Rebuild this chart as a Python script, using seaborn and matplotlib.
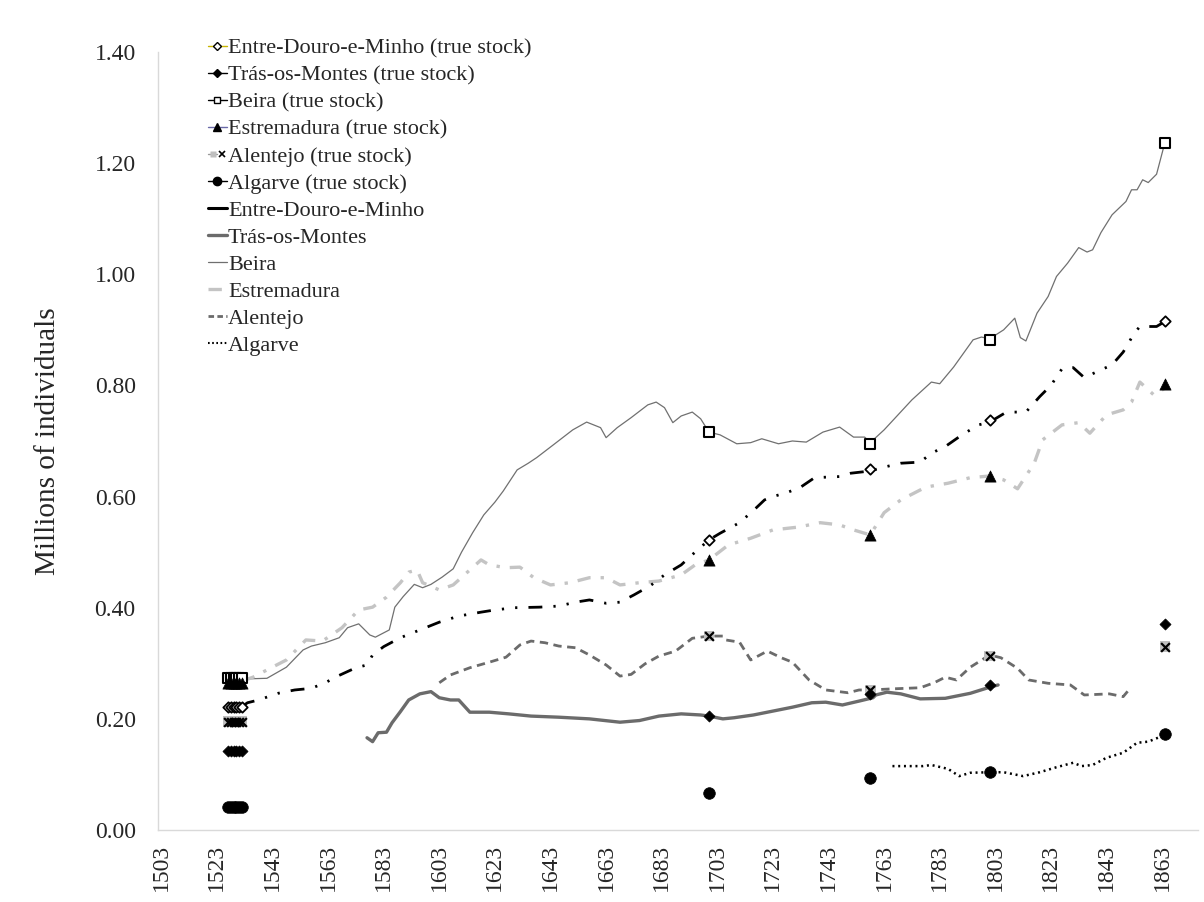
import matplotlib
matplotlib.use('Agg')
import matplotlib.pyplot as plt
from matplotlib.lines import Line2D
from matplotlib.legend_handler import HandlerTuple
import seaborn as sns

# census / "true stock" years (1527-1532 numeramento shown as a run of markers)
stock_years = [1527, 1528, 1529, 1530, 1531, 1532, 1700, 1758, 1801, 1864]
edm_stock = [0.222, 0.222, 0.222, 0.222, 0.222, 0.222, 0.522, 0.650, 0.738, 0.915]
tm_stock = [0.143, 0.143, 0.143, 0.143, 0.143, 0.143, 0.205, 0.245, 0.261, 0.371]
beira_stock = [0.274, 0.274, 0.274, 0.274, 0.274, 0.274, 0.716, 0.695, 0.882, 1.237]
estr_stock = [0.265, 0.265, 0.265, 0.265, 0.265, 0.265, 0.486, 0.531, 0.637, 0.803]
alen_stock = [0.195, 0.195, 0.195, 0.195, 0.195, 0.195, 0.349, 0.252, 0.313, 0.330]
alg_stock = [0.041, 0.041, 0.041, 0.041, 0.041, 0.041, 0.067, 0.094, 0.104, 0.173]

# estimated series
edm_years = [1532, 1534, 1538, 1545, 1551, 1557, 1562, 1566, 1573, 1577, 1579, 1583, 1589,
             1596, 1603, 1610, 1618, 1623, 1630, 1639, 1646, 1652, 1657, 1663, 1668, 1673,
             1679, 1684, 1690, 1695, 1700, 1704, 1711, 1716, 1720, 1723, 1728, 1733, 1738,
             1747, 1751, 1758, 1763, 1769, 1776, 1780, 1785, 1791, 1797, 1801, 1807, 1814,
             1819, 1823, 1827, 1831, 1835, 1841, 1845, 1849, 1853, 1855, 1861, 1864]
edm_vals = [0.222, 0.229, 0.234, 0.246, 0.252, 0.255, 0.265, 0.276, 0.292, 0.297, 0.315, 0.330, 0.346,
            0.360, 0.374, 0.385, 0.392, 0.396, 0.400, 0.401, 0.403, 0.410, 0.414, 0.408, 0.410, 0.423,
            0.440, 0.459, 0.477, 0.500, 0.522, 0.534, 0.553, 0.575, 0.594, 0.600, 0.607, 0.617, 0.634,
            0.636, 0.642, 0.646, 0.653, 0.660, 0.662, 0.678, 0.690, 0.711, 0.729, 0.734, 0.752, 0.752,
            0.780, 0.800, 0.830, 0.832, 0.814, 0.828, 0.837, 0.860, 0.894, 0.906, 0.906, 0.915]

tm_years = [1577, 1579, 1581, 1584, 1586, 1589, 1592, 1596, 1600, 1603, 1607, 1610, 1614, 1621,
            1628, 1636, 1646, 1657, 1668, 1675, 1682, 1690, 1697, 1700, 1705, 1709, 1716, 1723,
            1730, 1737, 1742, 1748, 1754, 1759, 1760, 1764, 1769, 1776, 1785, 1794, 1801, 1804]
tm_vals = [0.166, 0.159, 0.175, 0.176, 0.193, 0.213, 0.234, 0.245, 0.249, 0.238, 0.234, 0.234, 0.212, 0.212,
           0.209, 0.205, 0.203, 0.200, 0.194, 0.197, 0.205, 0.209, 0.207, 0.205, 0.200, 0.202, 0.207, 0.214,
           0.221, 0.229, 0.230, 0.225, 0.232, 0.238, 0.243, 0.248, 0.245, 0.236, 0.237, 0.246, 0.257, 0.261]

beira_years = [1532, 1534, 1541, 1548, 1554, 1557, 1562, 1567, 1570, 1574, 1578, 1580, 1585, 1587,
               1590, 1594, 1597, 1600, 1604, 1608, 1611, 1615, 1619, 1623, 1626, 1631, 1635, 1638,
               1644, 1651, 1656, 1661, 1663, 1667, 1672, 1678, 1681, 1684, 1687, 1690, 1694, 1697,
               1700, 1704, 1710, 1715, 1719, 1725, 1730, 1735, 1741, 1747, 1752, 1756, 1758, 1763,
               1768, 1773, 1780, 1783, 1788, 1795, 1798, 1801, 1806, 1810, 1812, 1814, 1818, 1822,
               1825, 1829, 1833, 1836, 1838, 1841, 1845, 1850, 1852, 1854, 1856, 1858, 1861, 1864]
beira_vals = [0.270, 0.272, 0.273, 0.293, 0.324, 0.331, 0.337, 0.346, 0.364, 0.371, 0.351, 0.347, 0.360, 0.401,
              0.420, 0.442, 0.436, 0.442, 0.455, 0.470, 0.500, 0.535, 0.567, 0.590, 0.610, 0.648, 0.660, 0.670,
              0.693, 0.720, 0.734, 0.724, 0.706, 0.724, 0.742, 0.765, 0.770, 0.760, 0.733, 0.745, 0.752, 0.740,
              0.716, 0.711, 0.695, 0.697, 0.704, 0.695, 0.700, 0.698, 0.716, 0.725, 0.707, 0.707, 0.697, 0.720,
              0.747, 0.774, 0.806, 0.803, 0.833, 0.882, 0.887, 0.884, 0.900, 0.921, 0.886, 0.880, 0.930, 0.960,
              0.996, 1.020, 1.048, 1.040, 1.044, 1.075, 1.107, 1.131, 1.152, 1.152, 1.170, 1.165, 1.180, 1.237]

estr_years = [1532, 1536, 1541, 1548, 1555, 1561, 1568, 1574, 1579, 1584, 1589, 1592, 1595, 1597,
              1603, 1608, 1614, 1618, 1621, 1627, 1632, 1637, 1643, 1650, 1657, 1663, 1668, 1675,
              1682, 1690, 1695, 1700, 1707, 1715, 1723, 1732, 1740, 1747, 1752, 1758, 1763, 1769,
              1778, 1786, 1794, 1801, 1806, 1811, 1817, 1820, 1827, 1833, 1837, 1843, 1849, 1852,
              1855, 1860, 1864]
estr_vals = [0.268, 0.275, 0.288, 0.306, 0.342, 0.340, 0.364, 0.396, 0.401, 0.419, 0.445, 0.464, 0.468, 0.445,
             0.432, 0.441, 0.468, 0.486, 0.477, 0.472, 0.473, 0.454, 0.441, 0.445, 0.454, 0.454, 0.441, 0.445,
             0.448, 0.459, 0.477, 0.486, 0.513, 0.525, 0.540, 0.545, 0.553, 0.549, 0.540, 0.531, 0.571, 0.594,
             0.617, 0.624, 0.634, 0.637, 0.630, 0.614, 0.660, 0.702, 0.729, 0.733, 0.714, 0.747, 0.756, 0.770,
             0.806, 0.783, 0.795]

alen_years = [1603, 1607, 1614, 1621, 1627, 1632, 1636, 1641, 1646, 1652, 1657, 1663, 1668, 1672,
              1677, 1682, 1688, 1694, 1700, 1705, 1706, 1711, 1715, 1721, 1726, 1730, 1736, 1742,
              1750, 1754, 1758, 1766, 1776, 1781, 1785, 1789, 1794, 1801, 1805, 1811, 1815, 1822,
              1830, 1835, 1844, 1849, 1851]
alen_vals = [0.265, 0.279, 0.292, 0.302, 0.311, 0.333, 0.340, 0.337, 0.331, 0.328, 0.315, 0.297, 0.277, 0.280,
             0.299, 0.313, 0.322, 0.345, 0.349, 0.349, 0.342, 0.338, 0.306, 0.322, 0.310, 0.302, 0.270, 0.252,
             0.247, 0.252, 0.252, 0.254, 0.256, 0.265, 0.275, 0.270, 0.293, 0.315, 0.310, 0.291, 0.270, 0.264,
             0.261, 0.243, 0.245, 0.240, 0.252]

alg_years = [1766, 1777, 1780, 1786, 1790, 1794, 1801, 1806, 1813, 1819, 1825, 1831, 1834, 1838,
             1843, 1849, 1854, 1858, 1862, 1864]
alg_vals = [0.115, 0.115, 0.117, 0.110, 0.097, 0.103, 0.104, 0.104, 0.097, 0.104, 0.113, 0.121, 0.115, 0.117,
            0.130, 0.139, 0.157, 0.159, 0.167, 0.173]

x_ticks = list(range(1503, 1864, 20))
y_ticks = [0.0, 0.2, 0.4, 0.6, 0.8, 1.0, 1.2, 1.4]

sns.set_style('white')
plt.rcParams['font.family'] = ['Liberation Serif', 'DejaVu Serif']

fig = plt.figure(figsize=(12.04, 9.02), dpi=100)
ax = fig.add_axes([0.1312, 0.0798, 0.8638, 0.8626])

# lines
sns.lineplot(x=beira_years, y=beira_vals, ax=ax, color='#707070', linewidth=0.9, errorbar=None)
sns.lineplot(x=estr_years, y=estr_vals, ax=ax, color='#c4c4c4', linewidth=2.4, errorbar=None,
             linestyle=(0, (4, 3, 1, 3)))
sns.lineplot(x=edm_years, y=edm_vals, ax=ax, color='black', linewidth=2.0, errorbar=None,
             linestyle=(0, (5, 4, 0.8, 4, 0.8, 4)))
sns.lineplot(x=tm_years, y=tm_vals, ax=ax, color='#6b6b6b', linewidth=2.4, errorbar=None)
sns.lineplot(x=alen_years, y=alen_vals, ax=ax, color='#6b6b6b', linewidth=2.0, errorbar=None,
             linestyle=(0, (3, 2)))
sns.lineplot(x=alg_years, y=alg_vals, ax=ax, color='black', linewidth=1.8, errorbar=None,
             linestyle=(0, (0.8, 1.5)))

# true stock markers
sns.scatterplot(x=stock_years, y=beira_stock, ax=ax, marker='s', s=55, color='white',
                edgecolor='black', linewidth=1.5, zorder=5)
sns.scatterplot(x=stock_years, y=estr_stock, ax=ax, marker='^', s=65, color='black',
                edgecolor='black', linewidth=0.5, zorder=5)
sns.scatterplot(x=stock_years, y=edm_stock, ax=ax, marker='D', s=28, color='white',
                edgecolor='black', linewidth=1.3, zorder=5)
sns.scatterplot(x=stock_years, y=alen_stock, ax=ax, marker='s', s=60, color='#bfbfbf',
                edgecolor='none', linewidth=0, zorder=5)
sns.scatterplot(x=stock_years, y=alen_stock, ax=ax, marker='x', s=40, color='black',
                linewidth=1.6, zorder=6)
sns.scatterplot(x=stock_years, y=tm_stock, ax=ax, marker='D', s=32, color='black',
                edgecolor='black', linewidth=0.5, zorder=5)
sns.scatterplot(x=stock_years, y=alg_stock, ax=ax, marker='o', s=70, color='black',
                edgecolor='black', linewidth=0.5, zorder=5)

ax.set_xlim(1501.8, 1875.9)
ax.set_ylim(0, 1.4)
ax.set_xticks(x_ticks)
ax.set_xticklabels([str(t) for t in x_ticks], rotation=90, fontsize=17)
ax.set_yticks(y_ticks)
ax.set_yticklabels(['%.2f' % v for v in y_ticks], fontsize=17)
ax.tick_params(axis='x', length=0, pad=10)
ax.tick_params(axis='y', length=0, pad=16)
ax.set_xlabel('')
ax.set_ylabel('Millions of individuals', fontsize=21, labelpad=24)
for sp in ['top', 'right']:
    ax.spines[sp].set_visible(False)
for sp in ['left', 'bottom']:
    ax.spines[sp].set_color('#d9d9d9')
    ax.spines[sp].set_linewidth(1.0)

# legend in Excel style
ms = 5
handles = [
    Line2D([], [], color='#c8b400', lw=1, marker='D', markersize=ms - 1, markerfacecolor='white',
           markeredgecolor='black'),
    Line2D([], [], color='black', lw=1, marker='D', markersize=ms - 1, markerfacecolor='black',
           markeredgecolor='black'),
    Line2D([], [], color='black', lw=1, marker='s', markersize=ms, markerfacecolor='white',
           markeredgecolor='black'),
    Line2D([], [], color='#6a6aa8', lw=1, marker='^', markersize=ms + 1, markerfacecolor='black',
           markeredgecolor='black'),
    (Line2D([], [], color='#999999', lw=1, marker='s', markersize=ms, markerfacecolor='#bfbfbf',
            markeredgecolor='none'),
     Line2D([], [], color='none', marker='x', markersize=ms - 1, markeredgecolor='black',
            markeredgewidth=1.2)),
    Line2D([], [], color='black', lw=1, marker='o', markersize=ms + 1, markerfacecolor='black',
           markeredgecolor='black'),
    Line2D([], [], color='black', lw=2.2),
    Line2D([], [], color='#6b6b6b', lw=2.4),
    Line2D([], [], color='#6f6f6f', lw=0.9),
    Line2D([], [], color='#c4c4c4', lw=2.4, linestyle=(0, (4, 3))),
    Line2D([], [], color='#6b6b6b', lw=2.0, linestyle=(0, (2, 1.2))),
    Line2D([], [], color='black', lw=1.5, linestyle=(0, (0.8, 1.2))),
]
labels = ['Entre-Douro-e-Minho (true stock)', 'Trás-os-Montes (true stock)', 'Beira (true stock)',
          'Estremadura (true stock)', 'Alentejo (true stock)', 'Algarve (true stock)',
          'Entre-Douro-e-Minho', 'Trás-os-Montes', 'Beira', 'Estremadura', 'Alentejo', 'Algarve']
leg = ax.legend(handles, labels, loc='upper left', bbox_to_anchor=(208 / 1204, 1 - 38 / 902),
                bbox_transform=fig.transFigure, frameon=False, fontsize=16, borderpad=0,
                borderaxespad=0, handlelength=0.85, handletextpad=0.05, labelspacing=0.29,
                handler_map={tuple: HandlerTuple(ndivide=None, pad=0)})

fig.savefig('out.png', dpi=100, facecolor='white')
